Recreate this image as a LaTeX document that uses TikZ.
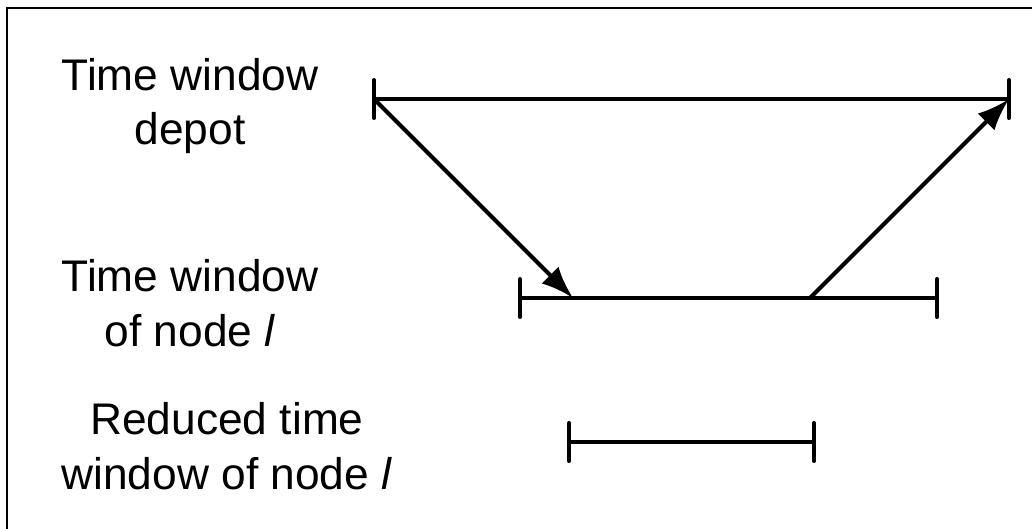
\documentclass[tikz,border=0pt]{standalone}
\usepackage{fontspec}
\setmainfont{Liberation Sans}
\usetikzlibrary{arrows.meta}

\tikzset{
    label/.style={align=center, font=\fontsize{31.5}{39}\selectfont, inner sep=0pt},
    window/.style={line width=2.9pt, shorten <=-1.45pt, shorten >=-1.45pt,
        {Bar[width=27pt, round]}-{Bar[width=27pt, round]}},
    move/.style={line width=2.9pt, -{Latex[length=23pt, width=17pt]}}
}

\begin{document}
\begin{tikzpicture}[x=0.025cm, y=-0.025cm]
        \useasboundingbox (0, 0) rectangle (1032, 528);
        \draw[line width=1.4pt] (7, 8) rectangle (1045, 545);

        % end points of the three windows
        \coordinate (depotA) at (374, 99);
        \coordinate (depotB) at (1009, 99);
        \coordinate (nodeA) at (520, 298);
        \coordinate (nodeB) at (937, 298);
        \coordinate (redA) at (569, 442);
        \coordinate (redB) at (814, 442);

        \node[label] (depot) at (190, 106) {Time window\\depot};
        \node[label] (node) at (190, 303) {Time window\\of node \textit{l}};
        \node[label] (reduced) at (227, 446) {Reduced time\\window of node \textit{l}};

        \draw[window] (depotA) -- (depotB);
        \draw[window] (nodeA) -- (nodeB);
        \draw[window] (redA) -- (redB);

        \draw[move] (depotA) -- (573, 298);
        \draw[move] (810, 298) -- (depotB);
    \end{tikzpicture}
\end{document}
